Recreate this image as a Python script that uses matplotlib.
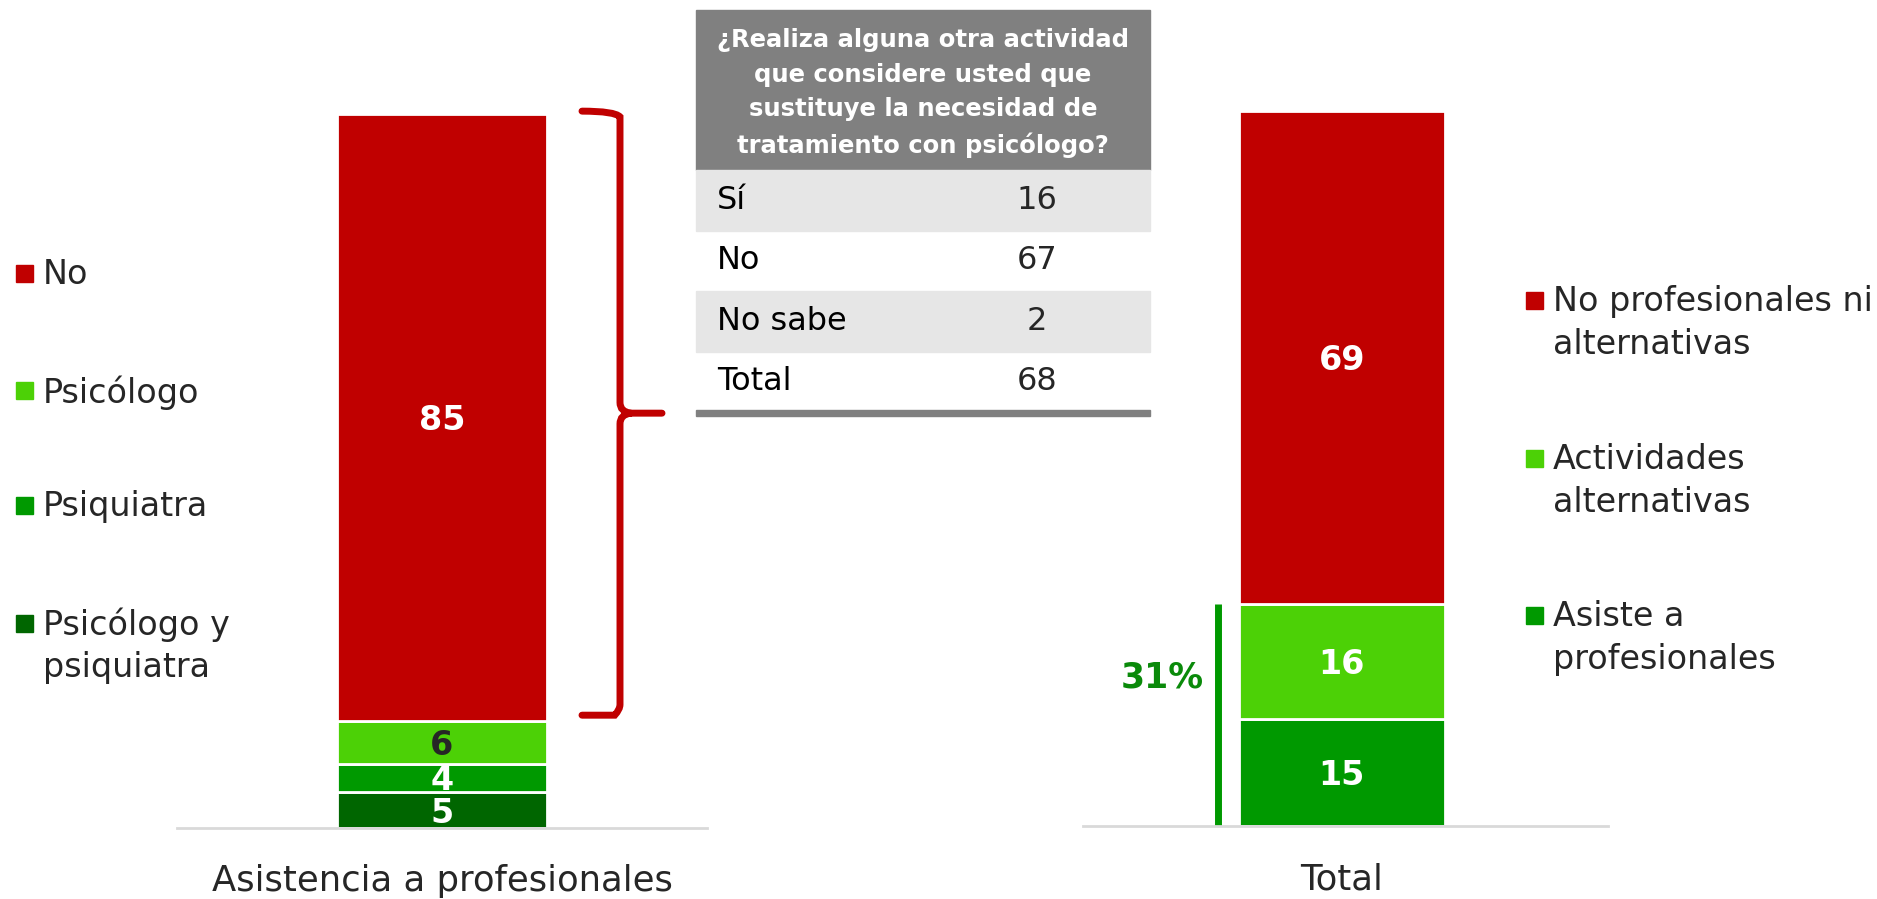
import numpy as np
import matplotlib
matplotlib.use("Agg")
import matplotlib.pyplot as plt
from matplotlib.patches import Rectangle
from matplotlib.path import Path
from matplotlib.patches import PathPatch

plt.rcParams['font.family'] = ['DejaVu Sans']

# ---- data ----
left_title = 'Asistencia a profesionales'
left_labels = ['Psicólogo y\npsiquiatra', 'Psiquiatra', 'Psicólogo', 'No']
left_values = [5, 4, 6, 85]
left_colors = ['#006600', '#009900', '#4CD106', '#C00000']
left_text_colors = ['white', 'white', '#262626', 'white']

right_title = 'Total'
right_labels = ['Asiste a\nprofesionales', 'Actividades\nalternativas', 'No profesionales ni\nalternativas']
right_values = [15, 16, 69]
right_colors = ['#009900', '#4CD106', '#C00000']
bracket_pct = '31%'

table_header = '¿Realiza alguna otra actividad\nque considere usted que\nsustituye la necesidad de\ntratamiento con psicólogo?'
table_rows = ['Sí', 'No', 'No sabe', 'Total']
table_vals = [16, 67, 2, 68]

W, H = 1877, 899
TXT = '#262626'
fig = plt.figure(figsize=(W / 100, H / 100), dpi=100)


def fx(px):
    return px / W


def fy(py):
    return 1 - py / H


def stacked(ax, center, width, values, colors, txtcols):
    bottom = 0
    for v, c, tc in zip(values, colors, txtcols):
        ax.bar(center, v, width, bottom=bottom, color=c, edgecolor='white', linewidth=2)
        ax.text(center, bottom + v / 2 - 0.4, str(v), ha='center', va='center',
                color=tc, fontsize=24, fontweight='bold')
        bottom += v
    ax.set_xlim(0, 1)
    ax.set_ylim(0, 100)
    for s in ['top', 'right', 'left']:
        ax.spines[s].set_visible(False)
    ax.spines['bottom'].set_color('#D9D9D9')
    ax.spines['bottom'].set_linewidth(2)
    ax.set_yticks([])
    ax.tick_params(axis='x', length=0, pad=26, labelsize=25.5, labelcolor=TXT)


# ---- left chart ----
axL = fig.add_axes([fx(177), fy(828), fx(707) - fx(177), fy(114) - fy(828)])
stacked(axL, 0.5, 0.396, left_values, left_colors, left_text_colors)
axL.set_xticks([0.5])
axL.set_xticklabels([left_title])

# ---- right chart ----
axR = fig.add_axes([fx(1083), fy(826), fx(1608) - fx(1083), fy(111) - fy(826)])
stacked(axR, 0.493, 0.393, right_values, right_colors, ['white'] * 3)
axR.set_xticks([0.493])
axR.set_xticklabels([right_title])

# 31% bar beside the professional + alternative segments
green_top = right_values[0] + right_values[1]
xl = (1218 - 1083) / 525
axR.plot([xl, xl], [0, green_top], color='#009900', lw=5, solid_capstyle='butt', clip_on=False)
axR.text(xl - 0.027, green_top / 2 + 5.2, bracket_pct, ha='right', va='center',
         color='#0A8A0A', fontsize=25, fontweight='bold')

# ---- bracket on the "No" segment of the left bar ----
y0 = sum(left_values[:3]) + 0.8
y1 = 100.4
ym = (y0 + y1) / 2
bx0, bx1, bx2 = (582 - 177) / 530, (620 - 177) / 530, (662 - 177) / 530
r = 1.5
verts = [(bx0, y1), (bx1 - 0.01, y1), (bx1, y1 - 0.8), (bx1, y1 - r),
         (bx1, ym + r), (bx1, ym + 0.2), (bx1 + 0.02, ym), (bx2, ym),
         (bx1 + 0.02, ym), (bx1, ym - 0.2), (bx1, ym - r),
         (bx1, y0 + r), (bx1, y0 + 0.8), (bx1 - 0.01, y0), (bx0, y0)]
codes = [Path.MOVETO, Path.CURVE3, Path.CURVE3, Path.LINETO,
         Path.LINETO, Path.CURVE3, Path.CURVE3, Path.LINETO,
         Path.MOVETO, Path.CURVE3, Path.CURVE3,
         Path.LINETO, Path.CURVE3, Path.CURVE3, Path.LINETO]
axL.add_patch(PathPatch(Path(verts, codes), transform=axL.transData, fill=False,
                        edgecolor='#C00000', lw=5, clip_on=False, capstyle='round'))

# ---- legends ----
def legend(x_sq, x_txt, ys, labels, colors, ls):
    for y, lab, c in zip(ys, labels, colors):
        fig.patches.append(Rectangle((fx(x_sq), fy(y + 9)), 17 / W, 17 / H,
                                     transform=fig.transFigure, color=c))
        fig.text(fx(x_txt), fy(y - 15), lab, ha='left', va='top', fontsize=24,
                 color=TXT, linespacing=ls)


legend(16, 43, [273, 390, 505, 623], left_labels[::-1], left_colors[::-1], 1.32)
legend(1526, 1553, [300, 458, 615], right_labels[::-1], right_colors[::-1], 1.4)

# ---- table ----
tx0, tx1 = 696, 1150
fig.patches.append(Rectangle((fx(tx0), fy(170)), (tx1 - tx0) / W, 160 / H,
                             transform=fig.transFigure, color='#808080'))
fig.text(fx((tx0 + tx1) / 2), fy(93), table_header, ha='center', va='center',
         color='white', fontsize=17.5, fontweight='bold', linespacing=1.55)
row_h = 60.5
for i, (lab, v) in enumerate(zip(table_rows, table_vals)):
    top = 170 + i * row_h
    if i % 2 == 0:
        fig.patches.append(Rectangle((fx(tx0), fy(top + row_h)), (tx1 - tx0) / W, row_h / H,
                                     transform=fig.transFigure, color='#E6E6E6'))
    fig.text(fx(717), fy(top + row_h / 2), lab, ha='left', va='center', fontsize=23, color='black')
    fig.text(fx(1037), fy(top + row_h / 2), str(v), ha='center', va='center', fontsize=23,
             color=TXT)
fig.patches.append(Rectangle((fx(tx0), fy(416)), (tx1 - tx0) / W, 6 / H,
                             transform=fig.transFigure, color='#808080'))

fig.savefig('out.png', dpi=100)
